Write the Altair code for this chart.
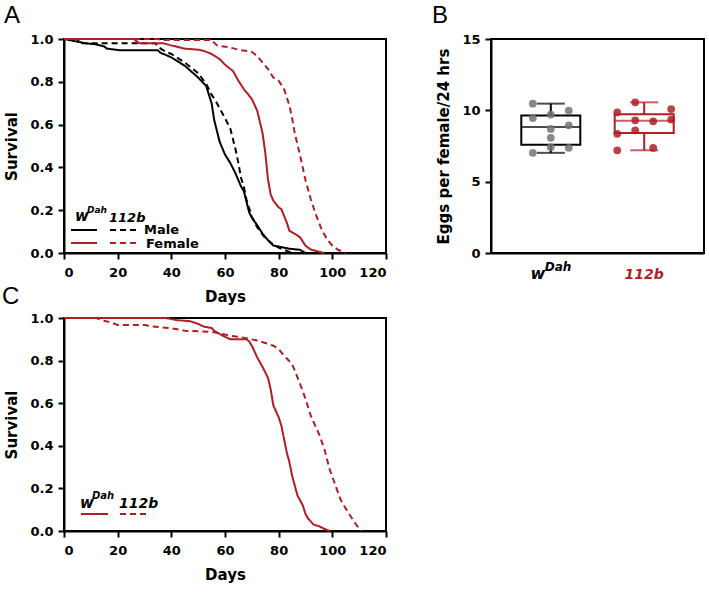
import altair as alt
import pandas as pd

FONT = "DejaVu Sans"
LETTER_FONT = "Liberation Sans"
RED = "#b11e23"
GRAY = "#737373"

# ---------------- Panel A: survival by sex ----------------
a_wdah_male_day = [0, 4, 8, 12, 15, 16, 21, 35, 36, 38, 40, 45, 50, 53, 55, 56, 58, 60, 62, 64, 66, 67, 68, 69, 70, 72, 74, 76, 78, 80, 84, 88, 90]
a_wdah_male_surv = [1.0, 0.99, 0.98, 0.975, 0.965, 0.955, 0.947, 0.947, 0.935, 0.925, 0.914, 0.875, 0.82, 0.78, 0.70, 0.62, 0.52, 0.46, 0.42, 0.37, 0.31, 0.29, 0.24, 0.19, 0.165, 0.13, 0.09, 0.06, 0.035, 0.03, 0.02, 0.015, 0.0]

a_112b_male_day = [0, 5, 6, 34, 36, 38, 40, 45, 50, 53, 55, 57, 60, 62, 64, 65, 66, 67, 68, 70, 72, 75, 78, 80, 83, 85]
a_112b_male_surv = [1.0, 1.0, 0.98, 0.98, 0.955, 0.94, 0.93, 0.89, 0.84, 0.79, 0.74, 0.70, 0.63, 0.58, 0.48, 0.42, 0.35, 0.31, 0.25, 0.17, 0.12, 0.07, 0.04, 0.025, 0.01, 0.0]

a_wdah_female_day = [0, 26, 28, 37, 40, 45, 50, 52, 55, 58, 60, 63, 65, 67, 70, 72, 74, 75, 76, 77, 78, 80, 81, 83, 84, 86, 88, 90, 92, 95, 97]
a_wdah_female_surv = [1.0, 1.0, 0.98, 0.98, 0.97, 0.955, 0.95, 0.945, 0.93, 0.906, 0.88, 0.85, 0.805, 0.766, 0.72, 0.665, 0.56, 0.47, 0.345, 0.275, 0.245, 0.213, 0.205, 0.143, 0.104, 0.09, 0.073, 0.034, 0.016, 0.006, 0.0]

a_112b_female_day = [0, 35, 37, 55, 57, 62, 65, 70, 72, 74, 76, 78, 80, 82, 84, 85, 86, 88, 90, 92, 94, 96, 98, 100, 102, 105]
a_112b_female_surv = [1.0, 1.0, 0.995, 0.995, 0.97, 0.96, 0.95, 0.94, 0.92, 0.89, 0.86, 0.82, 0.805, 0.766, 0.69, 0.63, 0.56, 0.455, 0.34, 0.25, 0.175, 0.11, 0.065, 0.034, 0.016, 0.0]

# ---------------- Panel C: female survival ----------------
c_wdah_day = [0, 38, 42, 47, 50, 52, 55, 56, 58, 60, 62, 68, 69, 70, 72, 74, 76, 77, 78, 80, 81, 82, 83, 84, 85, 87, 89, 90, 91, 93, 95, 97, 99]
c_wdah_surv = [1.0, 1.0, 0.99, 0.985, 0.972, 0.96, 0.953, 0.94, 0.925, 0.912, 0.90, 0.90, 0.89, 0.87, 0.815, 0.77, 0.72, 0.667, 0.59, 0.534, 0.495, 0.433, 0.37, 0.323, 0.26, 0.167, 0.12, 0.08, 0.058, 0.03, 0.023, 0.01, 0.0]

c_112b_day = [0, 12, 15, 18, 20, 30, 33, 40, 45, 55, 58, 62, 65, 68, 72, 75, 78, 80, 82, 85, 86, 88, 90, 92, 95, 97, 99, 101, 103, 105, 107, 109, 111]
c_112b_surv = [1.0, 1.0, 0.987, 0.977, 0.967, 0.967, 0.96, 0.952, 0.94, 0.935, 0.928, 0.917, 0.912, 0.905, 0.894, 0.883, 0.87, 0.855, 0.823, 0.784, 0.753, 0.69, 0.62, 0.54, 0.456, 0.386, 0.29, 0.22, 0.15, 0.105, 0.066, 0.027, 0.0]

# ---------------- Panel B: eggs per female ----------------
b_categories = ["wDah", "112b"]
b_wdah_eggs = [10.47, 9.46, 9.70, 9.98, 8.95, 8.70, 8.07, 7.42, 7.02, 7.37]
b_wdah_col = [-1, -1, 0, 1, 1, 0, 0, 0, -1, 1]
b_112b_eggs = [7.20, 7.36, 8.35, 8.60, 9.23, 9.30, 9.35, 9.86, 10.09, 10.56]
b_112b_col = [-1.5, 0.5, -1.5, -0.5, 0.5, -0.5, 1.5, -1.5, 1.5, -0.5]

x_ticks = [0, 20, 40, 60, 80, 100, 120]
y_ticks = [0.0, 0.2, 0.4, 0.6, 0.8, 1.0]
b_y_ticks = [0, 5, 10, 15]

panel_letters = ["A", "B", "C"]
sex_labels = ["Male", "Female"]
geno_labels = ["w", "Dah", "112b"]

one = pd.DataFrame({"k": [0]})


def series(days, surv, name, geno):
    return pd.DataFrame({"day": days, "surv": surv, "series": name, "geno": geno})


def leg_rule(x1, x2, y, color, dash):
    return alt.Chart(one).mark_rule(color=color, strokeWidth=2, strokeDash=dash).encode(
        x=alt.value(x1), x2=alt.value(x2), y=alt.value(y))


def leg_text(x, y, txt, size, italic=True, color="black"):
    return alt.Chart(one).mark_text(
        text=txt, align="left", baseline="alphabetic", font=FONT, fontSize=size,
        fontWeight="bold", fontStyle="italic" if italic else "normal", color=color
    ).encode(x=alt.value(x), y=alt.value(y))


def letter(t, x, y):
    return alt.Chart(one).mark_text(
        text=t, align="left", baseline="alphabetic", font=LETTER_FONT, fontSize=24,
        fontWeight="normal", color="black"
    ).encode(x=alt.value(x), y=alt.value(y))


def surv_lines(df, dom, rng):
    return alt.Chart(df).mark_line(strokeWidth=2).encode(
        x=alt.X("day:Q", scale=alt.Scale(domain=[0, 120], nice=False),
                axis=alt.Axis(title="Days", values=x_ticks, format="d")),
        y=alt.Y("surv:Q", scale=alt.Scale(domain=[0, 1], nice=False),
                axis=alt.Axis(title="Survival", values=y_ticks, format=".1f")),
        color=alt.Color("series:N", scale=alt.Scale(domain=dom, range=rng), legend=None),
        strokeDash=alt.StrokeDash("geno:N", scale=alt.Scale(domain=["wDah", "112b"], range=[[1, 0], [6, 4]]), legend=None),
        detail="series:N",
    )


# Panel A
dfA = pd.concat([
    series(a_wdah_male_day, a_wdah_male_surv, "wDah male", "wDah"),
    series(a_112b_male_day, a_112b_male_surv, "112b male", "112b"),
    series(a_wdah_female_day, a_wdah_female_surv, "wDah female", "wDah"),
    series(a_112b_female_day, a_112b_female_surv, "112b female", "112b"),
])
linesA = surv_lines(dfA, ["wDah male", "112b male", "wDah female", "112b female"], ["black", "black", RED, RED])
panelA = alt.layer(
    linesA,
    leg_text(11, 182, geno_labels[0], 15),
    leg_text(23, 174, geno_labels[1], 9),
    leg_text(45, 183, geno_labels[2], 13),
    leg_rule(7, 33, 191, "black", [1, 0]),
    leg_rule(46, 72, 191, "black", [6, 4]),
    leg_rule(7, 33, 204, RED, [1, 0]),
    leg_rule(46, 72, 204, RED, [6, 4]),
    leg_text(80, 195, sex_labels[0], 13, italic=False),
    leg_text(82, 209, sex_labels[1], 13, italic=False),
    letter(panel_letters[0], -60, -16),
    letter(panel_letters[2], -62, 265),
).properties(width=322, height=214)

# Panel C
dfC = pd.concat([
    series(c_wdah_day, c_wdah_surv, "wDah C", "wDah"),
    series(c_112b_day, c_112b_surv, "112b C", "112b"),
])
linesC = surv_lines(dfC, ["wDah C", "112b C"], [RED, RED])
panelC = alt.layer(
    linesC,
    leg_text(16, 190, geno_labels[0], 15),
    leg_text(28, 181, geno_labels[1], 10),
    leg_text(55, 190, geno_labels[2], 14),
    leg_rule(17, 44, 196, RED, [1, 0]),
    leg_rule(56, 83, 196, RED, [6, 4]),
).properties(width=322, height=213)

# Panel B
dfB = pd.DataFrame({
    "grp": ["wDah"] * len(b_wdah_eggs) + ["112b"] * len(b_112b_eggs),
    "eggs": b_wdah_eggs + b_112b_eggs,
    "col": b_wdah_col + b_112b_col,
})
xB = alt.X("grp:N", scale=alt.Scale(domain=b_categories, paddingInner=0.5, paddingOuter=0.39),
           axis=alt.Axis(title=None, labels=False, ticks=False))
yScaleB = alt.Scale(domain=[0, 15], nice=False)
yAxisB = alt.Axis(title="Eggs per female/24 hrs", values=b_y_ticks, format="d")
colB = alt.Color("grp:N", scale=alt.Scale(domain=b_categories, range=["black", RED]), legend=None)
strokeB = alt.Stroke("grp:N", scale=alt.Scale(domain=b_categories, range=["black", RED]), legend=None)

baseB = alt.Chart(dfB).transform_aggregate(
    q1="q1(eggs)", q3="q3(eggs)", med="median(eggs)", lo="min(eggs)", hi="max(eggs)", groupby=["grp"]
)
whisk_lo = baseB.mark_rule(strokeWidth=2).encode(x=xB, y=alt.Y("lo:Q", scale=yScaleB, axis=yAxisB), y2="q1:Q", color=colB)
whisk_hi = baseB.mark_rule(strokeWidth=2).encode(x=xB, y=alt.Y("q3:Q"), y2="hi:Q", color=colB)
box = baseB.mark_bar(size=59, fill="white", fillOpacity=0, strokeWidth=2).encode(
    x=xB, y=alt.Y("q1:Q"), y2="q3:Q", stroke=strokeB)
med = baseB.mark_tick(size=59, thickness=2).encode(x=xB, y=alt.Y("med:Q"), color=colB)
cap_lo = baseB.mark_tick(size=28, thickness=2).encode(x=xB, y=alt.Y("lo:Q"), color=colB)
cap_hi = baseB.mark_tick(size=28, thickness=2).encode(x=xB, y=alt.Y("hi:Q"), color=colB)
dots = alt.Chart(dfB).mark_circle(size=60, fillOpacity=0.85, strokeWidth=0).encode(
    x=xB,
    xOffset=alt.XOffset("col:Q", scale=alt.Scale(domain=[-1.5, 1.5], range=[-3.6, 50.3])),
    y=alt.Y("eggs:Q"),
    fill=alt.Fill("grp:N", scale=alt.Scale(domain=b_categories, range=[GRAY, RED]), legend=None),
)
lab_w = alt.Chart(pd.DataFrame({"grp": [b_categories[0]]})).mark_text(
    text=geno_labels[0], align="center", baseline="alphabetic", font=FONT, fontSize=16,
    fontWeight="bold", fontStyle="italic", color="black", dx=-13).encode(x=xB, y=alt.value(240))
lab_dah = alt.Chart(pd.DataFrame({"grp": [b_categories[0]]})).mark_text(
    text=geno_labels[1], align="left", baseline="alphabetic", font=FONT, fontSize=12,
    fontWeight="bold", fontStyle="italic", color="black", dx=-6).encode(x=xB, y=alt.value(232))
lab_112b = alt.Chart(pd.DataFrame({"grp": [b_categories[1]]})).mark_text(
    text=geno_labels[2], align="center", baseline="alphabetic", font=FONT, fontSize=14,
    fontWeight="bold", fontStyle="italic", color=RED).encode(x=xB, y=alt.value(240))

panelB = alt.layer(
    whisk_lo, whisk_hi, box, med, cap_lo, cap_hi, dots, lab_w, lab_dah, lab_112b,
    letter(panel_letters[1], -59, -16),
).properties(width=213, height=214)

chart = alt.concat(
    panelA, panelB, panelC, columns=2, spacing={"row": 65, "column": 105}, bounds="flush"
).resolve_scale(
    color="independent", stroke="independent", fill="independent", strokeDash="independent"
).properties(
    padding={"left": 1, "top": 3, "right": 0, "bottom": 0}
).configure_view(
    stroke="black", strokeWidth=2
).configure_axis(
    domainColor="black", domainWidth=2, tickColor="black", tickWidth=2, tickSize=6,
    labelFont=FONT, labelFontWeight="bold", labelFontSize=13, labelColor="black", labelPadding=5,
    titleFont=FONT, titleFontWeight="bold", titleFontSize=15, titleColor="black", titlePadding=10, grid=False,
).configure_axisX(labelPadding=7, titlePadding=10)

chart.save("out.html", embed_options={"renderer": "svg", "actions": False})
